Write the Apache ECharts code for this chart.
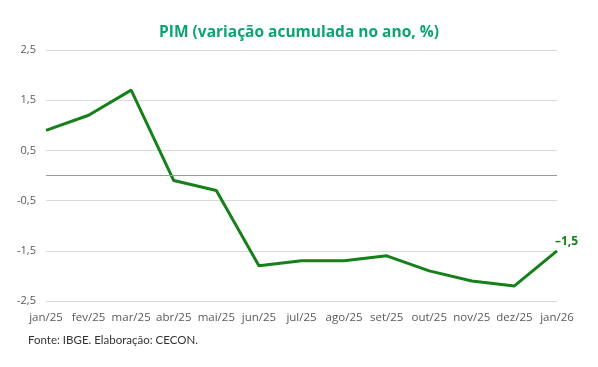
<!DOCTYPE html>
<html><head><meta charset="utf-8">
<script src="https://cdn.jsdelivr.net/npm/echarts@6/dist/echarts.min.js"></script>
<style>html,body{margin:0;padding:0;background:#fff}#c{width:598px;height:367px}</style>
</head><body><div id="c"></div>
<script>
const categories = ['jan/25','fev/25','mar/25','abr/25','mai/25','jun/25','jul/25','ago/25','set/25','out/25','nov/25','dez/25','jan/26'];
const values = [0.9, 1.2, 1.7, -0.1, -0.3, -1.8, -1.7, -1.7, -1.6, -1.9, -2.1, -2.2, -1.5];
const titleText = 'PIM (variação acumulada no ano, %)';
const sourceText = 'Fonte: IBGE. Elaboração: CECON.';
const fmt = v => String(v).replace('.', ',');
const chart = echarts.init(document.getElementById('c'));
chart.setOption({
  animation: false,
  title: { text: titleText, left: 'center', top: 20, textStyle: { fontFamily: 'Open Sans', fontWeight: 'bold', fontSize: 15.5, color: '#0aa56f' } },
  grid: { left: 46, right: 41, top: 50, bottom: 66 },
  xAxis: { type: 'category', data: categories, boundaryGap: false,
    axisLine: { show: false }, axisTick: { show: false },
    axisLabel: { color: '#595959', fontFamily: 'Open Sans', fontSize: 11.5, margin: 11, interval: 0 } },
  yAxis: { type: 'value', min: -2.5, max: 2.5, interval: 1,
    axisLine: { show: false }, axisTick: { show: false },
    splitLine: { lineStyle: { color: '#d9d9d9', width: 1 } },
    axisLabel: { color: '#595959', fontFamily: 'Open Sans', fontSize: 11, margin: 10, formatter: v => fmt(v) } },
  series: [{
    type: 'line', data: values, symbol: 'none', lineStyle: { color: '#16801a', width: 3 },
    endLabel: { show: true, offset: [-10, -9],
      formatter: p => fmt(p.value).replace('-', '–'),
      color: '#16801a', fontWeight: 'bold', fontFamily: 'Open Sans', fontSize: 12 },
    markLine: { silent: true, symbol: 'none', label: { show: false }, data: [{ yAxis: 0 }],
      lineStyle: { color: '#999999', type: 'solid', width: 1 } }
  }],
  graphic: [{ type: 'text', left: 28, top: 334, style: { text: sourceText, fill: '#333', fontFamily: 'Lato', fontSize: 11.5 } }]
});
</script></body></html>
